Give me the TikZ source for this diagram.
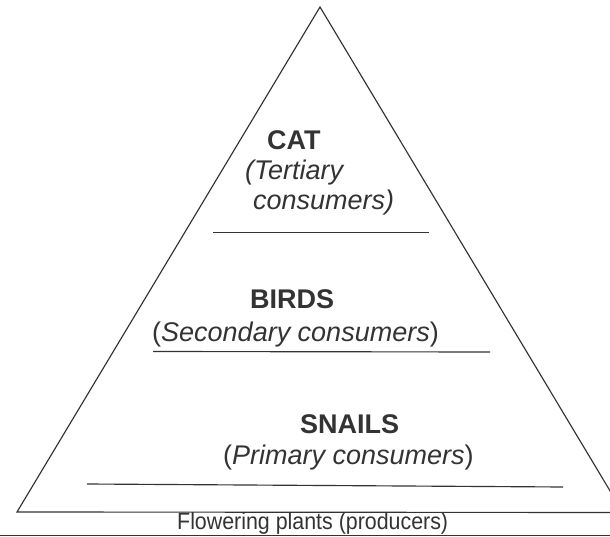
\documentclass[tikz,border=0pt]{standalone}
\usepackage{fontspec}
\setmainfont{Liberation Sans}
\definecolor{ink}{HTML}{333333}
\begin{document}
\begin{tikzpicture}[x=1pt,y=-1pt,
  lbl/.style={inner sep=0pt,anchor=base west,text=ink,font=\fontsize{27}{31}\selectfont},
  ttl/.style={lbl,font=\fontsize{27}{31}\selectfont\bfseries},
  rule/.style={draw=ink,line width=1.15pt}]
\useasboundingbox (0,0) rectangle (610,537);
\clip (0,0) rectangle (610,537);
\coordinate (apex) at (320,7);
\coordinate (bl) at (17,512);
\coordinate (br) at (623,512.5);
\draw[rule,line join=miter] (apex) -- (bl) -- (br) -- cycle;
\draw[rule,line width=1.5pt] (0,535.7) -- (610,535.7);
\draw[rule] (213,232.5) -- (429,232.5);
\draw[rule] (153,351.5) -- (490,352);
\draw[rule] (87,484) -- (563,487);
\node[ttl] (cat) at (267,150) {CAT};
\node[lbl] (ter1) at (245,180) {\itshape(Tertiary};
\node[lbl] (ter2) at (253,210) {\itshape consumers)};
\node[ttl] (birds) at (250,308) {BIRDS};
\node[lbl] (sec) at (152,341) {(\textit{Secondary consumers})};
\node[ttl] (snails) at (300,433) {SNAILS};
\node[lbl] (pri) at (223,464) {(\textit{Primary consumers})};
\node[lbl,font=\fontsize{23.5}{27}\selectfont,xscale=0.91] (flw) at (177,529.5) {Flowering plants (producers)};
\end{tikzpicture}
\end{document}
